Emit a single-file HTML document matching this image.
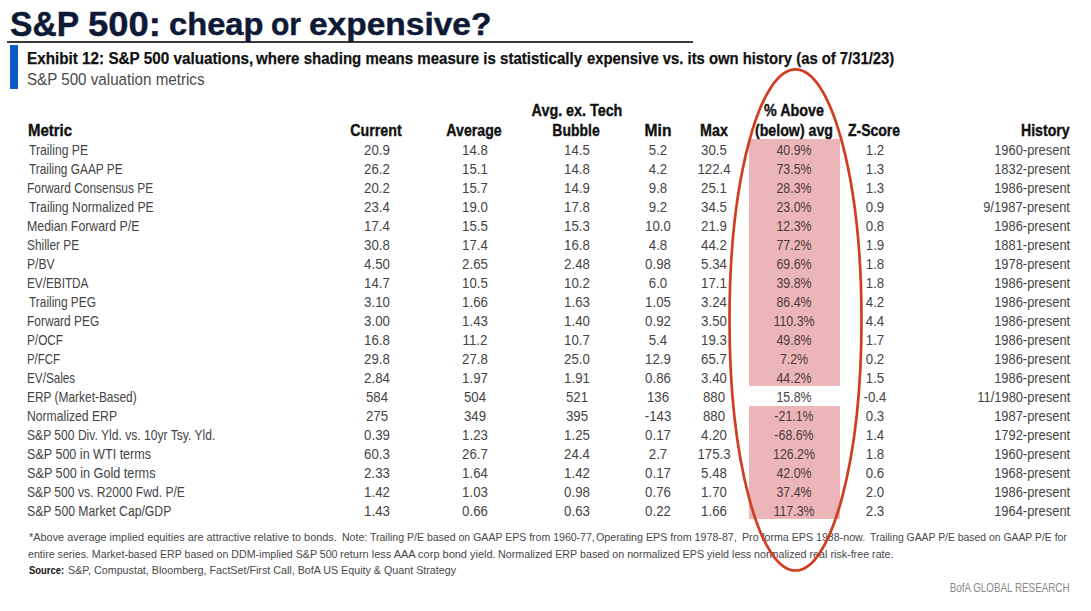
<!DOCTYPE html>
<html><head><meta charset="utf-8"><style>
html,body{margin:0;padding:0;background:#fff;}
body{width:1091px;height:611px;position:relative;overflow:hidden;font-family:"Liberation Sans",sans-serif;}
.t{position:absolute;white-space:pre;line-height:0;}
.pk{position:absolute;left:749px;width:91px;background:#ecb6b8;}
.rule{position:absolute;left:7px;top:41.4px;width:686px;height:2px;background:#3a3a3a;}
.bar{position:absolute;left:10px;top:45px;width:8px;height:43.5px;background:#0b5cc9;}
svg{position:absolute;left:0;top:0;}
[id^=title]{-webkit-text-stroke:0.45px #0e1a35;}
[id^=h_]{-webkit-text-stroke:0.35px #111;}
[id^=ex]{-webkit-text-stroke:0.25px #111;}
</style></head><body>
<div class="rule"></div>
<div class="bar"></div>
<div class="pk" style="top:139.00px;height:247.00px"></div>
<div class="pk" style="top:406.00px;height:113.00px"></div>
<div class="t" id="title0" style="left:10.12px;top:24.25px;font-size:34.5px;font-weight:700;color:#0e1a35;transform:scaleX(0.9748);transform-origin:left 0">S&amp;P</div>
<div class="t" id="title1" style="left:88.12px;top:24.25px;font-size:34.5px;font-weight:700;color:#0e1a35;transform:scaleX(1.0549);transform-origin:left 0">500:</div>
<div class="t" id="title2" style="left:168.62px;top:25.35px;font-size:31.3px;font-weight:700;color:#0e1a35;transform:scaleX(1.0441);transform-origin:left 0">cheap</div>
<div class="t" id="title3" style="left:270.62px;top:25.35px;font-size:31.3px;font-weight:700;color:#0e1a35;transform:scaleX(0.9606);transform-origin:left 0">or</div>
<div class="t" id="title4" style="left:309.12px;top:25.35px;font-size:31.3px;font-weight:700;color:#0e1a35;transform:scaleX(1.0699);transform-origin:left 0">expensive?</div>
<div class="t" id="ex0" style="left:26.86px;top:58.47px;font-size:17.4px;font-weight:700;color:#111111;transform:scaleX(0.8776);transform-origin:left 0">Exhibit 12: S&amp;P 500 valuations,</div>
<div class="t" id="ex1" style="left:256.10px;top:58.47px;font-size:17.4px;font-weight:700;color:#111111;transform:scaleX(0.8648);transform-origin:left 0">where shading means measure is statistically</div>
<div class="t" id="ex2" style="left:587.12px;top:58.47px;font-size:17.4px;font-weight:700;color:#111111;transform:scaleX(0.8522);transform-origin:left 0">expensive vs. its own history (as of 7/31/23)</div>
<div class="t" id="sub" style="left:27.20px;top:78.67px;font-size:17.4px;color:#4a4a4a;transform:scaleX(0.8715);transform-origin:left 0">S&amp;P 500 valuation metrics</div>
<div class="t" id="h_tech1" style="left:576.74px;top:111.49px;font-size:15.6px;font-weight:700;color:#111111;transform:translateX(-50%) scaleX(0.9186);transform-origin:center 0">Avg. ex. Tech</div>
<div class="t" id="h_pct1" style="left:793.52px;top:111.49px;font-size:15.6px;font-weight:700;color:#111111;transform:translateX(-50%) scaleX(0.9189);transform-origin:center 0">% Above</div>
<div class="t" id="h_metric" style="left:28.48px;top:130.59px;font-size:15.6px;font-weight:700;color:#111111;transform:scaleX(0.9598);transform-origin:left 0">Metric</div>
<div class="t" id="h_cur" style="left:376.28px;top:130.59px;font-size:15.6px;font-weight:700;color:#111111;transform:translateX(-50%) scaleX(0.9134);transform-origin:center 0">Current</div>
<div class="t" id="h_avg" style="left:474.34px;top:130.59px;font-size:15.6px;font-weight:700;color:#111111;transform:translateX(-50%) scaleX(0.9075);transform-origin:center 0">Average</div>
<div class="t" id="h_tech" style="left:576.02px;top:130.59px;font-size:15.6px;font-weight:700;color:#111111;transform:translateX(-50%) scaleX(0.8949);transform-origin:center 0">Bubble</div>
<div class="t" id="h_mn" style="left:657.66px;top:130.59px;font-size:15.6px;font-weight:700;color:#111111;transform:translateX(-50%) scaleX(0.9977);transform-origin:center 0">Min</div>
<div class="t" id="h_mx" style="left:713.68px;top:130.59px;font-size:15.6px;font-weight:700;color:#111111;transform:translateX(-50%) scaleX(0.9180);transform-origin:center 0">Max</div>
<div class="t" id="h_pct" style="left:793.68px;top:130.59px;font-size:15.6px;font-weight:700;color:#111111;transform:translateX(-50%) scaleX(0.9103);transform-origin:center 0">(below) avg</div>
<div class="t" id="h_z" style="left:874.10px;top:130.59px;font-size:15.6px;font-weight:700;color:#111111;transform:translateX(-50%) scaleX(0.8994);transform-origin:center 0">Z-Score</div>
<div class="t" id="h_hist" style="right:21.00px;top:130.59px;font-size:15.6px;font-weight:700;color:#111111;transform:scaleX(0.9086);transform-origin:right 0">History</div>
<div class="t" id="d_0_metric" style="left:28.96px;top:150.10px;font-size:15.0px;color:#444444;transform:scaleX(0.8111);transform-origin:left 0">Trailing PE</div>
<div class="t" id="d_0_cur" style="left:377.00px;top:150.00px;font-size:15.3px;color:#444444;transform:translateX(-50%) scaleX(0.8650);transform-origin:center 0">20.9</div>
<div class="t" id="d_0_avg" style="left:474.50px;top:150.00px;font-size:15.3px;color:#444444;transform:translateX(-50%) scaleX(0.8650);transform-origin:center 0">14.8</div>
<div class="t" id="d_0_tech" style="left:576.50px;top:150.00px;font-size:15.3px;color:#444444;transform:translateX(-50%) scaleX(0.8650);transform-origin:center 0">14.5</div>
<div class="t" id="d_0_mn" style="left:657.50px;top:150.00px;font-size:15.3px;color:#444444;transform:translateX(-50%) scaleX(0.8650);transform-origin:center 0">5.2</div>
<div class="t" id="d_0_mx" style="left:714.00px;top:150.00px;font-size:15.3px;color:#444444;transform:translateX(-50%) scaleX(0.8650);transform-origin:center 0">30.5</div>
<div class="t" id="d_0_pct" style="left:794.00px;top:150.00px;font-size:15.3px;color:#4d3a3c;transform:translateX(-50%) scaleX(0.8100);transform-origin:center 0">40.9%</div>
<div class="t" id="d_0_z" style="left:874.50px;top:150.00px;font-size:15.3px;color:#444444;transform:translateX(-50%) scaleX(0.8650);transform-origin:center 0">1.2</div>
<div class="t" id="d_0_hist" style="right:21.00px;top:150.00px;font-size:15.3px;color:#444444;transform:scaleX(0.8430);transform-origin:right 0">1960-present</div>
<div class="t" id="d_1_metric" style="left:28.96px;top:169.10px;font-size:15.0px;color:#444444;transform:scaleX(0.7908);transform-origin:left 0">Trailing GAAP PE</div>
<div class="t" id="d_1_cur" style="left:377.00px;top:169.00px;font-size:15.3px;color:#444444;transform:translateX(-50%) scaleX(0.8650);transform-origin:center 0">26.2</div>
<div class="t" id="d_1_avg" style="left:474.50px;top:169.00px;font-size:15.3px;color:#444444;transform:translateX(-50%) scaleX(0.8650);transform-origin:center 0">15.1</div>
<div class="t" id="d_1_tech" style="left:576.50px;top:169.00px;font-size:15.3px;color:#444444;transform:translateX(-50%) scaleX(0.8650);transform-origin:center 0">14.8</div>
<div class="t" id="d_1_mn" style="left:657.50px;top:169.00px;font-size:15.3px;color:#444444;transform:translateX(-50%) scaleX(0.8650);transform-origin:center 0">4.2</div>
<div class="t" id="d_1_mx" style="left:714.00px;top:169.00px;font-size:15.3px;color:#444444;transform:translateX(-50%) scaleX(0.8650);transform-origin:center 0">122.4</div>
<div class="t" id="d_1_pct" style="left:794.00px;top:169.00px;font-size:15.3px;color:#4d3a3c;transform:translateX(-50%) scaleX(0.8100);transform-origin:center 0">73.5%</div>
<div class="t" id="d_1_z" style="left:874.50px;top:169.00px;font-size:15.3px;color:#444444;transform:translateX(-50%) scaleX(0.8650);transform-origin:center 0">1.3</div>
<div class="t" id="d_1_hist" style="right:21.00px;top:169.00px;font-size:15.3px;color:#444444;transform:scaleX(0.8430);transform-origin:right 0">1832-present</div>
<div class="t" id="d_2_metric" style="left:27.36px;top:188.10px;font-size:15.0px;color:#444444;transform:scaleX(0.7971);transform-origin:left 0">Forward Consensus PE</div>
<div class="t" id="d_2_cur" style="left:377.00px;top:188.00px;font-size:15.3px;color:#444444;transform:translateX(-50%) scaleX(0.8650);transform-origin:center 0">20.2</div>
<div class="t" id="d_2_avg" style="left:474.50px;top:188.00px;font-size:15.3px;color:#444444;transform:translateX(-50%) scaleX(0.8650);transform-origin:center 0">15.7</div>
<div class="t" id="d_2_tech" style="left:576.50px;top:188.00px;font-size:15.3px;color:#444444;transform:translateX(-50%) scaleX(0.8650);transform-origin:center 0">14.9</div>
<div class="t" id="d_2_mn" style="left:657.50px;top:188.00px;font-size:15.3px;color:#444444;transform:translateX(-50%) scaleX(0.8650);transform-origin:center 0">9.8</div>
<div class="t" id="d_2_mx" style="left:714.00px;top:188.00px;font-size:15.3px;color:#444444;transform:translateX(-50%) scaleX(0.8650);transform-origin:center 0">25.1</div>
<div class="t" id="d_2_pct" style="left:794.00px;top:188.00px;font-size:15.3px;color:#4d3a3c;transform:translateX(-50%) scaleX(0.8100);transform-origin:center 0">28.3%</div>
<div class="t" id="d_2_z" style="left:874.50px;top:188.00px;font-size:15.3px;color:#444444;transform:translateX(-50%) scaleX(0.8650);transform-origin:center 0">1.3</div>
<div class="t" id="d_2_hist" style="right:21.00px;top:188.00px;font-size:15.3px;color:#444444;transform:scaleX(0.8430);transform-origin:right 0">1986-present</div>
<div class="t" id="d_3_metric" style="left:28.96px;top:207.10px;font-size:15.0px;color:#444444;transform:scaleX(0.8160);transform-origin:left 0">Trailing Normalized PE</div>
<div class="t" id="d_3_cur" style="left:377.00px;top:207.00px;font-size:15.3px;color:#444444;transform:translateX(-50%) scaleX(0.8650);transform-origin:center 0">23.4</div>
<div class="t" id="d_3_avg" style="left:474.50px;top:207.00px;font-size:15.3px;color:#444444;transform:translateX(-50%) scaleX(0.8650);transform-origin:center 0">19.0</div>
<div class="t" id="d_3_tech" style="left:576.50px;top:207.00px;font-size:15.3px;color:#444444;transform:translateX(-50%) scaleX(0.8650);transform-origin:center 0">17.8</div>
<div class="t" id="d_3_mn" style="left:657.50px;top:207.00px;font-size:15.3px;color:#444444;transform:translateX(-50%) scaleX(0.8650);transform-origin:center 0">9.2</div>
<div class="t" id="d_3_mx" style="left:714.00px;top:207.00px;font-size:15.3px;color:#444444;transform:translateX(-50%) scaleX(0.8650);transform-origin:center 0">34.5</div>
<div class="t" id="d_3_pct" style="left:794.00px;top:207.00px;font-size:15.3px;color:#4d3a3c;transform:translateX(-50%) scaleX(0.8100);transform-origin:center 0">23.0%</div>
<div class="t" id="d_3_z" style="left:874.50px;top:207.00px;font-size:15.3px;color:#444444;transform:translateX(-50%) scaleX(0.8650);transform-origin:center 0">0.9</div>
<div class="t" id="d_3_hist" style="right:21.00px;top:207.00px;font-size:15.3px;color:#444444;transform:scaleX(0.8430);transform-origin:right 0">9/1987-present</div>
<div class="t" id="d_4_metric" style="left:27.36px;top:226.10px;font-size:15.0px;color:#444444;transform:scaleX(0.8219);transform-origin:left 0">Median Forward P/E</div>
<div class="t" id="d_4_cur" style="left:377.00px;top:226.00px;font-size:15.3px;color:#444444;transform:translateX(-50%) scaleX(0.8650);transform-origin:center 0">17.4</div>
<div class="t" id="d_4_avg" style="left:474.50px;top:226.00px;font-size:15.3px;color:#444444;transform:translateX(-50%) scaleX(0.8650);transform-origin:center 0">15.5</div>
<div class="t" id="d_4_tech" style="left:576.50px;top:226.00px;font-size:15.3px;color:#444444;transform:translateX(-50%) scaleX(0.8650);transform-origin:center 0">15.3</div>
<div class="t" id="d_4_mn" style="left:657.50px;top:226.00px;font-size:15.3px;color:#444444;transform:translateX(-50%) scaleX(0.8650);transform-origin:center 0">10.0</div>
<div class="t" id="d_4_mx" style="left:714.00px;top:226.00px;font-size:15.3px;color:#444444;transform:translateX(-50%) scaleX(0.8650);transform-origin:center 0">21.9</div>
<div class="t" id="d_4_pct" style="left:794.00px;top:226.00px;font-size:15.3px;color:#4d3a3c;transform:translateX(-50%) scaleX(0.8100);transform-origin:center 0">12.3%</div>
<div class="t" id="d_4_z" style="left:874.50px;top:226.00px;font-size:15.3px;color:#444444;transform:translateX(-50%) scaleX(0.8650);transform-origin:center 0">0.8</div>
<div class="t" id="d_4_hist" style="right:21.00px;top:226.00px;font-size:15.3px;color:#444444;transform:scaleX(0.8430);transform-origin:right 0">1986-present</div>
<div class="t" id="d_5_metric" style="left:27.36px;top:245.10px;font-size:15.0px;color:#444444;transform:scaleX(0.7900);transform-origin:left 0">Shiller PE</div>
<div class="t" id="d_5_cur" style="left:377.00px;top:245.00px;font-size:15.3px;color:#444444;transform:translateX(-50%) scaleX(0.8650);transform-origin:center 0">30.8</div>
<div class="t" id="d_5_avg" style="left:474.50px;top:245.00px;font-size:15.3px;color:#444444;transform:translateX(-50%) scaleX(0.8650);transform-origin:center 0">17.4</div>
<div class="t" id="d_5_tech" style="left:576.50px;top:245.00px;font-size:15.3px;color:#444444;transform:translateX(-50%) scaleX(0.8650);transform-origin:center 0">16.8</div>
<div class="t" id="d_5_mn" style="left:657.50px;top:245.00px;font-size:15.3px;color:#444444;transform:translateX(-50%) scaleX(0.8650);transform-origin:center 0">4.8</div>
<div class="t" id="d_5_mx" style="left:714.00px;top:245.00px;font-size:15.3px;color:#444444;transform:translateX(-50%) scaleX(0.8650);transform-origin:center 0">44.2</div>
<div class="t" id="d_5_pct" style="left:794.00px;top:245.00px;font-size:15.3px;color:#4d3a3c;transform:translateX(-50%) scaleX(0.8100);transform-origin:center 0">77.2%</div>
<div class="t" id="d_5_z" style="left:874.50px;top:245.00px;font-size:15.3px;color:#444444;transform:translateX(-50%) scaleX(0.8650);transform-origin:center 0">1.9</div>
<div class="t" id="d_5_hist" style="right:21.00px;top:245.00px;font-size:15.3px;color:#444444;transform:scaleX(0.8430);transform-origin:right 0">1881-present</div>
<div class="t" id="d_6_metric" style="left:27.36px;top:264.10px;font-size:15.0px;color:#444444;transform:scaleX(0.8079);transform-origin:left 0">P/BV</div>
<div class="t" id="d_6_cur" style="left:377.00px;top:264.00px;font-size:15.3px;color:#444444;transform:translateX(-50%) scaleX(0.8650);transform-origin:center 0">4.50</div>
<div class="t" id="d_6_avg" style="left:474.50px;top:264.00px;font-size:15.3px;color:#444444;transform:translateX(-50%) scaleX(0.8650);transform-origin:center 0">2.65</div>
<div class="t" id="d_6_tech" style="left:576.50px;top:264.00px;font-size:15.3px;color:#444444;transform:translateX(-50%) scaleX(0.8650);transform-origin:center 0">2.48</div>
<div class="t" id="d_6_mn" style="left:657.50px;top:264.00px;font-size:15.3px;color:#444444;transform:translateX(-50%) scaleX(0.8650);transform-origin:center 0">0.98</div>
<div class="t" id="d_6_mx" style="left:714.00px;top:264.00px;font-size:15.3px;color:#444444;transform:translateX(-50%) scaleX(0.8650);transform-origin:center 0">5.34</div>
<div class="t" id="d_6_pct" style="left:794.00px;top:264.00px;font-size:15.3px;color:#4d3a3c;transform:translateX(-50%) scaleX(0.8100);transform-origin:center 0">69.6%</div>
<div class="t" id="d_6_z" style="left:874.50px;top:264.00px;font-size:15.3px;color:#444444;transform:translateX(-50%) scaleX(0.8650);transform-origin:center 0">1.8</div>
<div class="t" id="d_6_hist" style="right:21.00px;top:264.00px;font-size:15.3px;color:#444444;transform:scaleX(0.8430);transform-origin:right 0">1978-present</div>
<div class="t" id="d_7_metric" style="left:27.36px;top:283.10px;font-size:15.0px;color:#444444;transform:scaleX(0.7840);transform-origin:left 0">EV/EBITDA</div>
<div class="t" id="d_7_cur" style="left:377.00px;top:283.00px;font-size:15.3px;color:#444444;transform:translateX(-50%) scaleX(0.8650);transform-origin:center 0">14.7</div>
<div class="t" id="d_7_avg" style="left:474.50px;top:283.00px;font-size:15.3px;color:#444444;transform:translateX(-50%) scaleX(0.8650);transform-origin:center 0">10.5</div>
<div class="t" id="d_7_tech" style="left:576.50px;top:283.00px;font-size:15.3px;color:#444444;transform:translateX(-50%) scaleX(0.8650);transform-origin:center 0">10.2</div>
<div class="t" id="d_7_mn" style="left:657.50px;top:283.00px;font-size:15.3px;color:#444444;transform:translateX(-50%) scaleX(0.8650);transform-origin:center 0">6.0</div>
<div class="t" id="d_7_mx" style="left:714.00px;top:283.00px;font-size:15.3px;color:#444444;transform:translateX(-50%) scaleX(0.8650);transform-origin:center 0">17.1</div>
<div class="t" id="d_7_pct" style="left:794.00px;top:283.00px;font-size:15.3px;color:#4d3a3c;transform:translateX(-50%) scaleX(0.8100);transform-origin:center 0">39.8%</div>
<div class="t" id="d_7_z" style="left:874.50px;top:283.00px;font-size:15.3px;color:#444444;transform:translateX(-50%) scaleX(0.8650);transform-origin:center 0">1.8</div>
<div class="t" id="d_7_hist" style="right:21.00px;top:283.00px;font-size:15.3px;color:#444444;transform:scaleX(0.8430);transform-origin:right 0">1986-present</div>
<div class="t" id="d_8_metric" style="left:28.96px;top:302.10px;font-size:15.0px;color:#444444;transform:scaleX(0.7927);transform-origin:left 0">Trailing PEG</div>
<div class="t" id="d_8_cur" style="left:377.00px;top:302.00px;font-size:15.3px;color:#444444;transform:translateX(-50%) scaleX(0.8650);transform-origin:center 0">3.10</div>
<div class="t" id="d_8_avg" style="left:474.50px;top:302.00px;font-size:15.3px;color:#444444;transform:translateX(-50%) scaleX(0.8650);transform-origin:center 0">1.66</div>
<div class="t" id="d_8_tech" style="left:576.50px;top:302.00px;font-size:15.3px;color:#444444;transform:translateX(-50%) scaleX(0.8650);transform-origin:center 0">1.63</div>
<div class="t" id="d_8_mn" style="left:657.50px;top:302.00px;font-size:15.3px;color:#444444;transform:translateX(-50%) scaleX(0.8650);transform-origin:center 0">1.05</div>
<div class="t" id="d_8_mx" style="left:714.00px;top:302.00px;font-size:15.3px;color:#444444;transform:translateX(-50%) scaleX(0.8650);transform-origin:center 0">3.24</div>
<div class="t" id="d_8_pct" style="left:794.00px;top:302.00px;font-size:15.3px;color:#4d3a3c;transform:translateX(-50%) scaleX(0.8100);transform-origin:center 0">86.4%</div>
<div class="t" id="d_8_z" style="left:874.50px;top:302.00px;font-size:15.3px;color:#444444;transform:translateX(-50%) scaleX(0.8650);transform-origin:center 0">4.2</div>
<div class="t" id="d_8_hist" style="right:21.00px;top:302.00px;font-size:15.3px;color:#444444;transform:scaleX(0.8430);transform-origin:right 0">1986-present</div>
<div class="t" id="d_9_metric" style="left:27.36px;top:321.10px;font-size:15.0px;color:#444444;transform:scaleX(0.7945);transform-origin:left 0">Forward PEG</div>
<div class="t" id="d_9_cur" style="left:377.00px;top:321.00px;font-size:15.3px;color:#444444;transform:translateX(-50%) scaleX(0.8650);transform-origin:center 0">3.00</div>
<div class="t" id="d_9_avg" style="left:474.50px;top:321.00px;font-size:15.3px;color:#444444;transform:translateX(-50%) scaleX(0.8650);transform-origin:center 0">1.43</div>
<div class="t" id="d_9_tech" style="left:576.50px;top:321.00px;font-size:15.3px;color:#444444;transform:translateX(-50%) scaleX(0.8650);transform-origin:center 0">1.40</div>
<div class="t" id="d_9_mn" style="left:657.50px;top:321.00px;font-size:15.3px;color:#444444;transform:translateX(-50%) scaleX(0.8650);transform-origin:center 0">0.92</div>
<div class="t" id="d_9_mx" style="left:714.00px;top:321.00px;font-size:15.3px;color:#444444;transform:translateX(-50%) scaleX(0.8650);transform-origin:center 0">3.50</div>
<div class="t" id="d_9_pct" style="left:794.00px;top:321.00px;font-size:15.3px;color:#4d3a3c;transform:translateX(-50%) scaleX(0.8100);transform-origin:center 0">110.3%</div>
<div class="t" id="d_9_z" style="left:874.50px;top:321.00px;font-size:15.3px;color:#444444;transform:translateX(-50%) scaleX(0.8650);transform-origin:center 0">4.4</div>
<div class="t" id="d_9_hist" style="right:21.00px;top:321.00px;font-size:15.3px;color:#444444;transform:scaleX(0.8430);transform-origin:right 0">1986-present</div>
<div class="t" id="d_10_metric" style="left:27.36px;top:340.10px;font-size:15.0px;color:#444444;transform:scaleX(0.7861);transform-origin:left 0">P/OCF</div>
<div class="t" id="d_10_cur" style="left:377.00px;top:340.00px;font-size:15.3px;color:#444444;transform:translateX(-50%) scaleX(0.8650);transform-origin:center 0">16.8</div>
<div class="t" id="d_10_avg" style="left:474.50px;top:340.00px;font-size:15.3px;color:#444444;transform:translateX(-50%) scaleX(0.8650);transform-origin:center 0">11.2</div>
<div class="t" id="d_10_tech" style="left:576.50px;top:340.00px;font-size:15.3px;color:#444444;transform:translateX(-50%) scaleX(0.8650);transform-origin:center 0">10.7</div>
<div class="t" id="d_10_mn" style="left:657.50px;top:340.00px;font-size:15.3px;color:#444444;transform:translateX(-50%) scaleX(0.8650);transform-origin:center 0">5.4</div>
<div class="t" id="d_10_mx" style="left:714.00px;top:340.00px;font-size:15.3px;color:#444444;transform:translateX(-50%) scaleX(0.8650);transform-origin:center 0">19.3</div>
<div class="t" id="d_10_pct" style="left:794.00px;top:340.00px;font-size:15.3px;color:#4d3a3c;transform:translateX(-50%) scaleX(0.8100);transform-origin:center 0">49.8%</div>
<div class="t" id="d_10_z" style="left:874.50px;top:340.00px;font-size:15.3px;color:#444444;transform:translateX(-50%) scaleX(0.8650);transform-origin:center 0">1.7</div>
<div class="t" id="d_10_hist" style="right:21.00px;top:340.00px;font-size:15.3px;color:#444444;transform:scaleX(0.8430);transform-origin:right 0">1986-present</div>
<div class="t" id="d_11_metric" style="left:27.36px;top:359.10px;font-size:15.0px;color:#444444;transform:scaleX(0.7621);transform-origin:left 0">P/FCF</div>
<div class="t" id="d_11_cur" style="left:377.00px;top:359.00px;font-size:15.3px;color:#444444;transform:translateX(-50%) scaleX(0.8650);transform-origin:center 0">29.8</div>
<div class="t" id="d_11_avg" style="left:474.50px;top:359.00px;font-size:15.3px;color:#444444;transform:translateX(-50%) scaleX(0.8650);transform-origin:center 0">27.8</div>
<div class="t" id="d_11_tech" style="left:576.50px;top:359.00px;font-size:15.3px;color:#444444;transform:translateX(-50%) scaleX(0.8650);transform-origin:center 0">25.0</div>
<div class="t" id="d_11_mn" style="left:657.50px;top:359.00px;font-size:15.3px;color:#444444;transform:translateX(-50%) scaleX(0.8650);transform-origin:center 0">12.9</div>
<div class="t" id="d_11_mx" style="left:714.00px;top:359.00px;font-size:15.3px;color:#444444;transform:translateX(-50%) scaleX(0.8650);transform-origin:center 0">65.7</div>
<div class="t" id="d_11_pct" style="left:794.00px;top:359.00px;font-size:15.3px;color:#4d3a3c;transform:translateX(-50%) scaleX(0.8100);transform-origin:center 0">7.2%</div>
<div class="t" id="d_11_z" style="left:874.50px;top:359.00px;font-size:15.3px;color:#444444;transform:translateX(-50%) scaleX(0.8650);transform-origin:center 0">0.2</div>
<div class="t" id="d_11_hist" style="right:21.00px;top:359.00px;font-size:15.3px;color:#444444;transform:scaleX(0.8430);transform-origin:right 0">1986-present</div>
<div class="t" id="d_12_metric" style="left:27.36px;top:378.10px;font-size:15.0px;color:#444444;transform:scaleX(0.7816);transform-origin:left 0">EV/Sales</div>
<div class="t" id="d_12_cur" style="left:377.00px;top:378.00px;font-size:15.3px;color:#444444;transform:translateX(-50%) scaleX(0.8650);transform-origin:center 0">2.84</div>
<div class="t" id="d_12_avg" style="left:474.50px;top:378.00px;font-size:15.3px;color:#444444;transform:translateX(-50%) scaleX(0.8650);transform-origin:center 0">1.97</div>
<div class="t" id="d_12_tech" style="left:576.50px;top:378.00px;font-size:15.3px;color:#444444;transform:translateX(-50%) scaleX(0.8650);transform-origin:center 0">1.91</div>
<div class="t" id="d_12_mn" style="left:657.50px;top:378.00px;font-size:15.3px;color:#444444;transform:translateX(-50%) scaleX(0.8650);transform-origin:center 0">0.86</div>
<div class="t" id="d_12_mx" style="left:714.00px;top:378.00px;font-size:15.3px;color:#444444;transform:translateX(-50%) scaleX(0.8650);transform-origin:center 0">3.40</div>
<div class="t" id="d_12_pct" style="left:794.00px;top:378.00px;font-size:15.3px;color:#4d3a3c;transform:translateX(-50%) scaleX(0.8100);transform-origin:center 0">44.2%</div>
<div class="t" id="d_12_z" style="left:874.50px;top:378.00px;font-size:15.3px;color:#444444;transform:translateX(-50%) scaleX(0.8650);transform-origin:center 0">1.5</div>
<div class="t" id="d_12_hist" style="right:21.00px;top:378.00px;font-size:15.3px;color:#444444;transform:scaleX(0.8430);transform-origin:right 0">1986-present</div>
<div class="t" id="d_13_metric" style="left:27.36px;top:397.10px;font-size:15.0px;color:#444444;transform:scaleX(0.7940);transform-origin:left 0">ERP (Market-Based)</div>
<div class="t" id="d_13_cur" style="left:377.00px;top:397.00px;font-size:15.3px;color:#444444;transform:translateX(-50%) scaleX(0.8650);transform-origin:center 0">584</div>
<div class="t" id="d_13_avg" style="left:474.50px;top:397.00px;font-size:15.3px;color:#444444;transform:translateX(-50%) scaleX(0.8650);transform-origin:center 0">504</div>
<div class="t" id="d_13_tech" style="left:576.50px;top:397.00px;font-size:15.3px;color:#444444;transform:translateX(-50%) scaleX(0.8650);transform-origin:center 0">521</div>
<div class="t" id="d_13_mn" style="left:657.50px;top:397.00px;font-size:15.3px;color:#444444;transform:translateX(-50%) scaleX(0.8650);transform-origin:center 0">136</div>
<div class="t" id="d_13_mx" style="left:714.00px;top:397.00px;font-size:15.3px;color:#444444;transform:translateX(-50%) scaleX(0.8650);transform-origin:center 0">880</div>
<div class="t" id="d_13_pct" style="left:794.00px;top:397.00px;font-size:15.3px;color:#444444;transform:translateX(-50%) scaleX(0.8100);transform-origin:center 0">15.8%</div>
<div class="t" id="d_13_z" style="left:874.50px;top:397.00px;font-size:15.3px;color:#444444;transform:translateX(-50%) scaleX(0.8650);transform-origin:center 0">-0.4</div>
<div class="t" id="d_13_hist" style="right:21.00px;top:397.00px;font-size:15.3px;color:#444444;transform:scaleX(0.8430);transform-origin:right 0">11/1980-present</div>
<div class="t" id="d_14_metric" style="left:27.36px;top:416.10px;font-size:15.0px;color:#444444;transform:scaleX(0.8118);transform-origin:left 0">Normalized ERP</div>
<div class="t" id="d_14_cur" style="left:377.00px;top:416.00px;font-size:15.3px;color:#444444;transform:translateX(-50%) scaleX(0.8650);transform-origin:center 0">275</div>
<div class="t" id="d_14_avg" style="left:474.50px;top:416.00px;font-size:15.3px;color:#444444;transform:translateX(-50%) scaleX(0.8650);transform-origin:center 0">349</div>
<div class="t" id="d_14_tech" style="left:576.50px;top:416.00px;font-size:15.3px;color:#444444;transform:translateX(-50%) scaleX(0.8650);transform-origin:center 0">395</div>
<div class="t" id="d_14_mn" style="left:657.50px;top:416.00px;font-size:15.3px;color:#444444;transform:translateX(-50%) scaleX(0.8650);transform-origin:center 0">-143</div>
<div class="t" id="d_14_mx" style="left:714.00px;top:416.00px;font-size:15.3px;color:#444444;transform:translateX(-50%) scaleX(0.8650);transform-origin:center 0">880</div>
<div class="t" id="d_14_pct" style="left:794.00px;top:416.00px;font-size:15.3px;color:#4d3a3c;transform:translateX(-50%) scaleX(0.8100);transform-origin:center 0">-21.1%</div>
<div class="t" id="d_14_z" style="left:874.50px;top:416.00px;font-size:15.3px;color:#444444;transform:translateX(-50%) scaleX(0.8650);transform-origin:center 0">0.3</div>
<div class="t" id="d_14_hist" style="right:21.00px;top:416.00px;font-size:15.3px;color:#444444;transform:scaleX(0.8430);transform-origin:right 0">1987-present</div>
<div class="t" id="d_15_metric" style="left:27.36px;top:435.10px;font-size:15.0px;color:#444444;transform:scaleX(0.8064);transform-origin:left 0">S&amp;P 500 Div. Yld. vs. 10yr Tsy. Yld.</div>
<div class="t" id="d_15_cur" style="left:377.00px;top:435.00px;font-size:15.3px;color:#444444;transform:translateX(-50%) scaleX(0.8650);transform-origin:center 0">0.39</div>
<div class="t" id="d_15_avg" style="left:474.50px;top:435.00px;font-size:15.3px;color:#444444;transform:translateX(-50%) scaleX(0.8650);transform-origin:center 0">1.23</div>
<div class="t" id="d_15_tech" style="left:576.50px;top:435.00px;font-size:15.3px;color:#444444;transform:translateX(-50%) scaleX(0.8650);transform-origin:center 0">1.25</div>
<div class="t" id="d_15_mn" style="left:657.50px;top:435.00px;font-size:15.3px;color:#444444;transform:translateX(-50%) scaleX(0.8650);transform-origin:center 0">0.17</div>
<div class="t" id="d_15_mx" style="left:714.00px;top:435.00px;font-size:15.3px;color:#444444;transform:translateX(-50%) scaleX(0.8650);transform-origin:center 0">4.20</div>
<div class="t" id="d_15_pct" style="left:794.00px;top:435.00px;font-size:15.3px;color:#4d3a3c;transform:translateX(-50%) scaleX(0.8100);transform-origin:center 0">-68.6%</div>
<div class="t" id="d_15_z" style="left:874.50px;top:435.00px;font-size:15.3px;color:#444444;transform:translateX(-50%) scaleX(0.8650);transform-origin:center 0">1.4</div>
<div class="t" id="d_15_hist" style="right:21.00px;top:435.00px;font-size:15.3px;color:#444444;transform:scaleX(0.8430);transform-origin:right 0">1792-present</div>
<div class="t" id="d_16_metric" style="left:27.36px;top:454.10px;font-size:15.0px;color:#444444;transform:scaleX(0.8375);transform-origin:left 0">S&amp;P 500 in WTI terms</div>
<div class="t" id="d_16_cur" style="left:377.00px;top:454.00px;font-size:15.3px;color:#444444;transform:translateX(-50%) scaleX(0.8650);transform-origin:center 0">60.3</div>
<div class="t" id="d_16_avg" style="left:474.50px;top:454.00px;font-size:15.3px;color:#444444;transform:translateX(-50%) scaleX(0.8650);transform-origin:center 0">26.7</div>
<div class="t" id="d_16_tech" style="left:576.50px;top:454.00px;font-size:15.3px;color:#444444;transform:translateX(-50%) scaleX(0.8650);transform-origin:center 0">24.4</div>
<div class="t" id="d_16_mn" style="left:657.50px;top:454.00px;font-size:15.3px;color:#444444;transform:translateX(-50%) scaleX(0.8650);transform-origin:center 0">2.7</div>
<div class="t" id="d_16_mx" style="left:714.00px;top:454.00px;font-size:15.3px;color:#444444;transform:translateX(-50%) scaleX(0.8650);transform-origin:center 0">175.3</div>
<div class="t" id="d_16_pct" style="left:794.00px;top:454.00px;font-size:15.3px;color:#4d3a3c;transform:translateX(-50%) scaleX(0.8100);transform-origin:center 0">126.2%</div>
<div class="t" id="d_16_z" style="left:874.50px;top:454.00px;font-size:15.3px;color:#444444;transform:translateX(-50%) scaleX(0.8650);transform-origin:center 0">1.8</div>
<div class="t" id="d_16_hist" style="right:21.00px;top:454.00px;font-size:15.3px;color:#444444;transform:scaleX(0.8430);transform-origin:right 0">1960-present</div>
<div class="t" id="d_17_metric" style="left:27.36px;top:473.10px;font-size:15.0px;color:#444444;transform:scaleX(0.8435);transform-origin:left 0">S&amp;P 500 in Gold terms</div>
<div class="t" id="d_17_cur" style="left:377.00px;top:473.00px;font-size:15.3px;color:#444444;transform:translateX(-50%) scaleX(0.8650);transform-origin:center 0">2.33</div>
<div class="t" id="d_17_avg" style="left:474.50px;top:473.00px;font-size:15.3px;color:#444444;transform:translateX(-50%) scaleX(0.8650);transform-origin:center 0">1.64</div>
<div class="t" id="d_17_tech" style="left:576.50px;top:473.00px;font-size:15.3px;color:#444444;transform:translateX(-50%) scaleX(0.8650);transform-origin:center 0">1.42</div>
<div class="t" id="d_17_mn" style="left:657.50px;top:473.00px;font-size:15.3px;color:#444444;transform:translateX(-50%) scaleX(0.8650);transform-origin:center 0">0.17</div>
<div class="t" id="d_17_mx" style="left:714.00px;top:473.00px;font-size:15.3px;color:#444444;transform:translateX(-50%) scaleX(0.8650);transform-origin:center 0">5.48</div>
<div class="t" id="d_17_pct" style="left:794.00px;top:473.00px;font-size:15.3px;color:#4d3a3c;transform:translateX(-50%) scaleX(0.8100);transform-origin:center 0">42.0%</div>
<div class="t" id="d_17_z" style="left:874.50px;top:473.00px;font-size:15.3px;color:#444444;transform:translateX(-50%) scaleX(0.8650);transform-origin:center 0">0.6</div>
<div class="t" id="d_17_hist" style="right:21.00px;top:473.00px;font-size:15.3px;color:#444444;transform:scaleX(0.8430);transform-origin:right 0">1968-present</div>
<div class="t" id="d_18_metric" style="left:27.36px;top:492.10px;font-size:15.0px;color:#444444;transform:scaleX(0.8072);transform-origin:left 0">S&amp;P 500 vs. R2000 Fwd. P/E</div>
<div class="t" id="d_18_cur" style="left:377.00px;top:492.00px;font-size:15.3px;color:#444444;transform:translateX(-50%) scaleX(0.8650);transform-origin:center 0">1.42</div>
<div class="t" id="d_18_avg" style="left:474.50px;top:492.00px;font-size:15.3px;color:#444444;transform:translateX(-50%) scaleX(0.8650);transform-origin:center 0">1.03</div>
<div class="t" id="d_18_tech" style="left:576.50px;top:492.00px;font-size:15.3px;color:#444444;transform:translateX(-50%) scaleX(0.8650);transform-origin:center 0">0.98</div>
<div class="t" id="d_18_mn" style="left:657.50px;top:492.00px;font-size:15.3px;color:#444444;transform:translateX(-50%) scaleX(0.8650);transform-origin:center 0">0.76</div>
<div class="t" id="d_18_mx" style="left:714.00px;top:492.00px;font-size:15.3px;color:#444444;transform:translateX(-50%) scaleX(0.8650);transform-origin:center 0">1.70</div>
<div class="t" id="d_18_pct" style="left:794.00px;top:492.00px;font-size:15.3px;color:#4d3a3c;transform:translateX(-50%) scaleX(0.8100);transform-origin:center 0">37.4%</div>
<div class="t" id="d_18_z" style="left:874.50px;top:492.00px;font-size:15.3px;color:#444444;transform:translateX(-50%) scaleX(0.8650);transform-origin:center 0">2.0</div>
<div class="t" id="d_18_hist" style="right:21.00px;top:492.00px;font-size:15.3px;color:#444444;transform:scaleX(0.8430);transform-origin:right 0">1986-present</div>
<div class="t" id="d_19_metric" style="left:27.36px;top:511.10px;font-size:15.0px;color:#444444;transform:scaleX(0.8139);transform-origin:left 0">S&amp;P 500 Market Cap/GDP</div>
<div class="t" id="d_19_cur" style="left:377.00px;top:511.00px;font-size:15.3px;color:#444444;transform:translateX(-50%) scaleX(0.8650);transform-origin:center 0">1.43</div>
<div class="t" id="d_19_avg" style="left:474.50px;top:511.00px;font-size:15.3px;color:#444444;transform:translateX(-50%) scaleX(0.8650);transform-origin:center 0">0.66</div>
<div class="t" id="d_19_tech" style="left:576.50px;top:511.00px;font-size:15.3px;color:#444444;transform:translateX(-50%) scaleX(0.8650);transform-origin:center 0">0.63</div>
<div class="t" id="d_19_mn" style="left:657.50px;top:511.00px;font-size:15.3px;color:#444444;transform:translateX(-50%) scaleX(0.8650);transform-origin:center 0">0.22</div>
<div class="t" id="d_19_mx" style="left:714.00px;top:511.00px;font-size:15.3px;color:#444444;transform:translateX(-50%) scaleX(0.8650);transform-origin:center 0">1.66</div>
<div class="t" id="d_19_pct" style="left:794.00px;top:511.00px;font-size:15.3px;color:#4d3a3c;transform:translateX(-50%) scaleX(0.8100);transform-origin:center 0">117.3%</div>
<div class="t" id="d_19_z" style="left:874.50px;top:511.00px;font-size:15.3px;color:#444444;transform:translateX(-50%) scaleX(0.8650);transform-origin:center 0">2.3</div>
<div class="t" id="d_19_hist" style="right:21.00px;top:511.00px;font-size:15.3px;color:#444444;transform:scaleX(0.8430);transform-origin:right 0">1964-present</div>
<div class="t" id="fn0_0" style="left:29.00px;top:536.71px;font-size:11.8px;color:#474747;transform:scaleX(0.9241);transform-origin:left 0">*Above average implied equities are attractive relative to bonds.</div>
<div class="t" id="fn0_1" style="left:342.20px;top:536.71px;font-size:11.8px;color:#474747;transform:scaleX(0.8929);transform-origin:left 0">Note: Trailing P/E based on GAAP EPS from 1960-77,</div>
<div class="t" id="fn0_2" style="left:596.28px;top:536.71px;font-size:11.8px;color:#474747;transform:scaleX(0.9059);transform-origin:left 0">Operating EPS from 1978-87,</div>
<div class="t" id="fn0_3" style="left:742.18px;top:536.71px;font-size:11.8px;color:#474747;transform:scaleX(0.9030);transform-origin:left 0">Pro forma EPS 1988-now.</div>
<div class="t" id="fn0_4" style="left:870.10px;top:536.71px;font-size:11.8px;color:#474747;transform:scaleX(0.8808);transform-origin:left 0">Trailing GAAP P/E based on GAAP P/E for</div>
<div class="t" id="fn1_0" style="left:28.00px;top:553.71px;font-size:11.8px;color:#474747;transform:scaleX(0.9020);transform-origin:left 0">entire series. Market-based ERP based on DDM-implied S&amp;P 500</div>
<div class="t" id="fn1_1" style="left:340.26px;top:553.71px;font-size:11.8px;color:#474747;transform:scaleX(0.9308);transform-origin:left 0">return less AAA corp bond yield.</div>
<div class="t" id="fn1_2" style="left:498.32px;top:553.71px;font-size:11.8px;color:#474747;transform:scaleX(0.9090);transform-origin:left 0">Normalized ERP based on normalized EPS yield less normalized real risk-free rate.</div>
<div class="t" id="fn2_0" style="left:29.00px;top:570.31px;font-size:11.8px;color:#111111;transform:scaleX(0.8013);transform-origin:left 0"><b>Source:</b></div>
<div class="t" id="fn2_1" style="left:68.34px;top:570.31px;font-size:11.8px;color:#474747;transform:scaleX(0.9082);transform-origin:left 0">S&amp;P, Compustat, Bloomberg, FactSet/First Call, BofA US Equity &amp; Quant Strategy</div>
<div class="t" id="bofa" style="right:21.76px;top:587.77px;font-size:12.2px;color:#8a8a8a;transform:scaleX(0.8068);transform-origin:right 0">BofA GLOBAL RESEARCH</div>
<svg width="1091" height="611" viewBox="0 0 1091 611"><ellipse cx="795.5" cy="319.9" rx="66" ry="250.6" fill="none" stroke="#d23c1f" stroke-width="2.7"/></svg>
</body></html>
